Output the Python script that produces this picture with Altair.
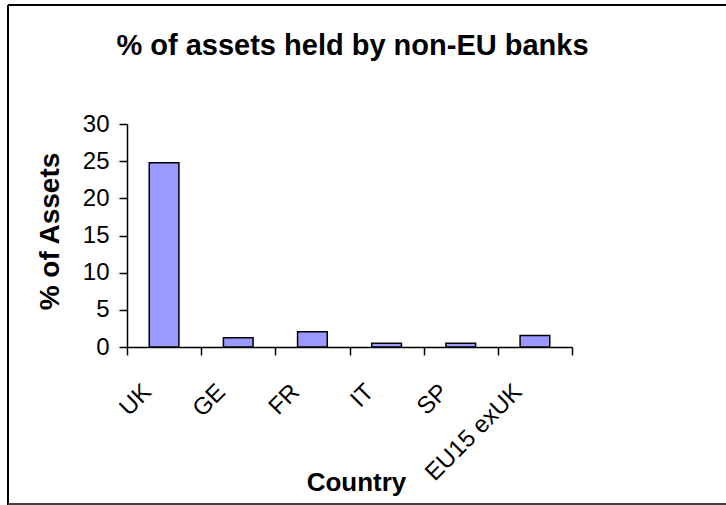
import altair as alt
import pandas as pd

countries = ["UK", "GE", "FR", "IT", "SP", "EU15 exUK"]
pct_assets = [24.8, 1.25, 2.05, 0.5, 0.5, 1.55]

df = pd.DataFrame({"Country": countries, "Pct": pct_assets})
FONT = "Liberation Sans"

bars = alt.Chart(df).mark_bar(
    color="#9999FF", stroke="black", strokeWidth=1.5,
    width=alt.RelativeBandSize(0.4)
).encode(
    x=alt.X("Country:N", sort=countries,
            scale=alt.Scale(paddingInner=0, paddingOuter=0),
            axis=alt.Axis(title="Country", labelAngle=-45, labelAlign="right",
                          labelBaseline="middle", labelPadding=33, labelOffset=-17,
                          tickBand="extent", tickSize=8,
                          titleX=229, titleY=143, titleBaseline="alphabetic",
                          titleAnchor="start", titleAlign="center")),
    y=alt.Y("Pct:Q", scale=alt.Scale(domain=[0, 30], nice=False),
            axis=alt.Axis(title="% of Assets", values=[0, 5, 10, 15, 20, 25, 30],
                          tickSize=8, labelPadding=10, grid=False,
                          titleAngle=-90, titleX=-69, titleY=107, titleBaseline="alphabetic",
                          titleAlign="center")),
)

frame_df = pd.DataFrame({"k": [0]})
left_line = alt.Chart(frame_df).mark_rule(color="black", strokeWidth=2).encode(
    x=alt.value(-119), y=alt.value(-119), y2=alt.value(400))
top_line = alt.Chart(frame_df).mark_rule(color="black", strokeWidth=2).encode(
    x=alt.value(-119), x2=alt.value(620), y=alt.value(-119))
bottom_line = alt.Chart(frame_df).mark_rule(color="#404040", strokeWidth=2).encode(
    x=alt.value(-119), x2=alt.value(620), y=alt.value(380))

chart = alt.layer(bars, left_line, top_line, bottom_line).properties(
    width=445, height=223,
    title=alt.TitleParams("% of assets held by non-EU banks", anchor="middle",
                          frame="group", fontSize=29, fontWeight="bold", font=FONT,
                          color="black", baseline="alphabetic", offset=-80, dx=3),
    autosize=alt.AutoSizeParams(type="none"),
    padding={"left": 127, "top": 124, "right": 154, "bottom": 158},
).configure_view(strokeWidth=0).configure_axis(
    labelFont=FONT, titleFont=FONT, labelFontSize=24, titleFontSize=26,
    labelColor="black", titleColor="black", domainColor="black", tickColor="black",
    domainWidth=1.5, tickWidth=1.5, titleFontWeight="bold", labelFontWeight="normal",
).configure_axisY(titleFontSize=28)

chart.save("out.html", embed_options={"renderer": "svg", "actions": False})
